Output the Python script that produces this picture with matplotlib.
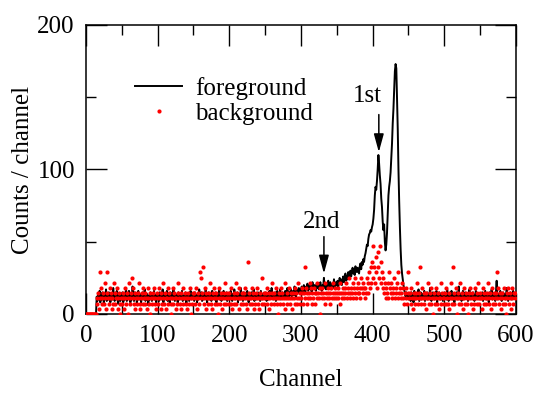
import numpy as np
import matplotlib
matplotlib.use("Agg")
import matplotlib.pyplot as plt

plt.rcParams['font.family'] = ['Liberation Serif', 'DejaVu Serif']
plt.rcParams['font.size'] = 18

# foreground spectrum, counts per channel (channels 0..599)
fg_000 = [0, 0, 0, 0, 0, 0, 0, 0, 0, 0, 0, 0, 0, 0, 0,
          12, 9, 14, 11, 16, 8, 13, 10, 15, 12, 7, 14, 11, 17, 9, 12, 10, 15, 13, 8,
          11, 14, 10, 18, 12, 9, 13, 11, 16, 10, 7, 12, 14, 9, 13]
fg_050 = [11, 15, 8, 12, 10, 14, 17, 9, 13, 11, 16, 12, 8, 14, 10, 19, 12, 9, 15, 11,
          13, 7, 12, 16, 10, 14, 11, 8, 13, 15, 10, 12, 17, 9, 11, 14, 12, 6, 13, 10,
          15, 11, 9, 14, 12, 16, 10, 13, 8, 12]
fg_100 = [14, 11, 9, 15, 12, 10, 13, 17, 8, 12, 11, 14, 10, 16, 9, 13, 12, 7, 15, 11,
          13, 10, 18, 12, 9, 14, 11, 13, 8, 15, 12, 10, 14, 11, 16, 9, 12, 13, 10, 15,
          7, 12, 14, 11, 9, 13, 16, 10, 12, 14]
fg_150 = [11, 9, 15, 12, 13, 8, 14, 10, 17, 12, 11, 15, 9, 13, 10, 14, 12, 18, 11, 8,
          13, 15, 10, 12, 14, 9, 16, 11, 13, 10, 12, 15, 8, 14, 11, 13, 17, 10, 12, 9,
          14, 11, 16, 12, 10, 13, 15, 9, 12, 14]
fg_200 = [10, 13, 16, 11, 9, 14, 12, 17, 10, 13, 11, 15, 8, 12, 14, 10, 18, 13, 11, 9,
          15, 12, 14, 10, 13, 16, 11, 8, 14, 12, 10, 15, 13, 11, 17, 9, 12, 14, 10, 13,
          15, 11, 12, 9, 16, 13, 10, 14, 12, 11]
fg_250 = [15, 12, 9, 14, 13, 10, 16, 12, 11, 18, 13, 10, 14, 12, 15, 9, 13, 16, 11, 14,
          12, 17, 10, 13, 15, 12, 14, 11, 16, 13, 12, 18, 14, 11, 15, 13, 17, 12, 14, 16,
          13, 19, 15, 12, 17, 14, 16, 18, 15, 17]
fg_300 = [16, 19, 15, 18, 20, 17, 14, 19, 18, 21, 16, 18, 20, 17, 19, 15, 22, 18, 17, 20,
          19, 16, 21, 18, 20, 17, 19, 22, 18, 16, 20, 19, 25, 18, 21, 17, 20, 19, 23, 18,
          20, 22, 17, 19, 21, 18, 24, 20, 19, 22]
fg_350 = [20, 23, 19, 22, 25, 21, 24, 20, 23, 26, 22, 25, 28, 23, 26, 24, 29, 25, 27, 30,
          26, 29, 32, 28, 31, 27, 33, 30, 29, 32, 30, 28, 33, 35, 31, 36, 34, 38, 36, 40,
          42, 45, 48, 47, 52, 55, 56, 58, 57, 60]
fg_400 = [62, 66, 72, 82, 88, 86, 92, 100, 110, 104, 96, 90, 80, 74, 64, 58, 62, 50, 44, 48,
          56, 70, 82, 88, 92, 98, 108, 118, 132, 142, 155, 168, 173, 170, 150, 128, 100, 78, 60, 45,
          34, 28, 24, 20, 17, 14, 12, 15, 11, 13]
fg_450 = [10, 14, 12, 9, 15, 11, 13, 8, 16, 12, 10, 14, 11, 13, 17, 9, 12, 15, 10, 14,
          12, 11, 16, 9, 13, 12, 15, 10, 14, 11, 18, 12, 9, 13, 15, 11, 10, 14, 12, 16,
          8, 13, 11, 15, 12, 10, 14, 13, 9, 12]
fg_500 = [15, 11, 13, 10, 17, 12, 9, 14, 11, 13, 16, 10, 12, 14, 8, 13, 11, 15, 12, 10,
          19, 13, 11, 14, 9, 12, 16, 10, 13, 15, 11, 12, 14, 9, 13, 17, 11, 10, 14, 12,
          15, 13, 9, 12, 16, 11, 14, 10, 13, 12]
fg_550 = [10, 14, 12, 15, 9, 13, 11, 16, 12, 10, 14, 13, 8, 15, 11, 12, 17, 10, 13, 14,
          11, 9, 15, 23, 12, 10, 14, 11, 16, 13, 9, 12, 15, 11, 14, 10, 13, 18, 12, 9,
          14, 11, 15, 13, 10, 12, 16, 11, 14, 12]

# background run, raw counts per channel, and its live-time normalisation
bg_scale = 3.6
bg_000 = [0, 0, 0, 0, 0, 0, 0, 0, 0, 0, 0, 0, 0, 0, 0,
          3, 2, 4, 1, 3, 8, 5, 2, 3, 4, 2, 6, 3, 1, 8, 4, 3, 2, 5, 3,
          4, 1, 3, 2, 6, 4, 2, 3, 5, 1, 3, 4, 2, 0, 3]
bg_050 = [2, 4, 3, 1, 5, 3, 2, 4, 0, 3, 6, 2, 3, 4, 7, 3, 5, 2, 1, 4,
          3, 2, 4, 3, 6, 2, 1, 3, 4, 2, 5, 3, 2, 4, 3, 1, 3, 5, 2, 4,
          0, 3, 2, 4, 3, 5, 2, 3, 1, 4]
bg_100 = [3, 2, 5, 3, 1, 4, 2, 3, 6, 2, 4, 3, 1, 3, 5, 2, 4, 3, 2, 0,
          3, 5, 2, 4, 3, 1, 3, 2, 4, 6, 3, 2, 4, 1, 3, 5, 2, 3, 4, 2,
          3, 1, 4, 3, 2, 5, 3, 0, 2, 4]
bg_150 = [3, 4, 2, 5, 3, 1, 4, 3, 2, 8, 3, 7, 4, 9, 2, 3, 5, 1, 4, 3,
          2, 4, 3, 6, 2, 3, 1, 4, 3, 5, 2, 3, 4, 2, 0, 3, 5, 2, 4, 3,
          1, 3, 2, 4, 6, 3, 2, 4, 3, 2]
bg_200 = [4, 3, 2, 5, 1, 3, 4, 2, 3, 6, 2, 4, 3, 1, 5, 3, 2, 4, 3, 2,
          4, 3, 5, 2, 3, 1, 10, 3, 4, 2, 3, 5, 2, 4, 1, 3, 2, 4, 3, 5,
          2, 3, 1, 4, 3, 7, 2, 3, 4, 2]
bg_250 = [3, 4, 2, 5, 3, 1, 4, 3, 2, 4, 6, 3, 2, 4, 3, 5, 2, 3, 0, 4,
          3, 2, 5, 3, 4, 2, 3, 6, 1, 3, 4, 2, 3, 5, 3, 2, 4, 3, 1, 4,
          3, 5, 2, 4, 3, 2, 6, 3, 4, 2]
bg_300 = [3, 5, 4, 2, 4, 9, 3, 5, 4, 2, 3, 4, 6, 3, 5, 2, 4, 3, 5, 4,
          2, 4, 3, 6, 4, 3, 5, 0, 4, 3, 5, 4, 3, 2, 6, 4, 3, 5, 4, 3,
          2, 4, 5, 3, 4, 6, 3, 4, 5, 3]
bg_350 = [4, 3, 5, 4, 2, 6, 4, 3, 5, 4, 3, 5, 4, 6, 3, 4, 5, 7, 4, 3,
          5, 4, 6, 3, 5, 4, 7, 3, 5, 4, 6, 4, 5, 3, 7, 5, 4, 6, 5, 3,
          5, 4, 7, 6, 4, 8, 5, 9, 6, 10]
bg_400 = [13, 7, 9, 6, 11, 8, 5, 9, 12, 7, 13, 10, 6, 8, 5, 7, 4, 6, 3, 5,
          4, 6, 3, 8, 5, 4, 6, 3, 5, 4, 7, 3, 5, 4, 6, 3, 8, 4, 5, 3,
          4, 6, 3, 5, 2, 4, 3, 5, 2, 4]
bg_450 = [8, 3, 4, 2, 5, 3, 1, 4, 3, 2, 4, 3, 6, 2, 3, 4, 9, 3, 2, 5,
          3, 4, 2, 3, 1, 4, 3, 6, 2, 3, 4, 2, 5, 3, 0, 3, 4, 2, 3, 5,
          2, 4, 3, 1, 3, 6, 2, 4, 3, 2]
bg_500 = [3, 4, 2, 5, 3, 2, 4, 1, 3, 6, 2, 3, 9, 4, 2, 3, 5, 0, 3, 4,
          2, 3, 6, 2, 4, 3, 1, 3, 5, 2, 4, 3, 2, 0, 3, 4, 5, 2, 3, 4,
          1, 3, 2, 5, 3, 4, 2, 6, 3, 2]
bg_550 = [4, 3, 1, 3, 5, 2, 4, 3, 2, 4, 3, 6, 2, 3, 4, 1, 3, 5, 2, 4,
          3, 2, 4, 8, 3, 5, 2, 3, 4, 1, 3, 4, 2, 5, 3, 2, 0, 4, 3, 5,
          2, 3, 4, 1, 3, 5, 2, 4, 3, 4]

fg = np.array(fg_000 + fg_050 + fg_100 + fg_150 + fg_200 + fg_250 +
              fg_300 + fg_350 + fg_400 + fg_450 + fg_500 + fg_550)
bg = np.array(bg_000 + bg_050 + bg_100 + bg_150 + bg_200 + bg_250 +
              bg_300 + bg_350 + bg_400 + bg_450 + bg_500 + bg_550) * bg_scale

# peak markers: label, channel, arrow tip, arrow tail, label position
peaks = [("1st", 408.6, 112, 138, (393, 151)),
         ("2nd", 332, 28, 53.5, (328.5, 64))]

fig = plt.figure(figsize=(5.36, 3.98), dpi=100)
ax = fig.add_axes([0.1604, 0.2111, 0.8023, 0.7261])

ax.plot(np.arange(len(fg)), fg, color='black', lw=1.4, label='foreground')
ax.plot(np.arange(len(bg)), bg, ls='none', marker='o', ms=3.0, mec='none',
        color='#ff0000', label='background', zorder=3)

for name, ch, tip, tail, pos in peaks:
    ax.annotate('', xy=(ch, tip), xytext=(ch, tail),
                arrowprops=dict(arrowstyle='-|>,head_length=1.1,head_width=0.3',
                                mutation_scale=10, color='black', lw=1.1,
                                shrinkA=0, shrinkB=0))
    ax.text(pos[0], pos[1], name, ha='center', va='center')

ax.set_xlim(0, 600)
ax.set_ylim(0, 200)
ax.set_xticks([0, 100, 200, 300, 400, 500, 600])
ax.set_xticks([50, 150, 250, 350, 450, 550], minor=True)
ax.set_yticks([0, 100, 200])
ax.set_yticks([50, 150], minor=True)
ax.tick_params(which='both', direction='in', top=True, right=True, width=1.0)
ax.tick_params(which='major', length=15, pad=8)
ax.tick_params(which='minor', length=7.5)
for s in ax.spines.values():
    s.set_linewidth(1.1)

ax.set_xlabel('Channel')
ax.set_ylabel('Counts / channel')
ax.xaxis.set_label_coords(0.5, -0.19)
ax.yaxis.set_label_coords(-0.12, 0.5)

ax.legend(loc='upper left', bbox_to_anchor=(0.114, 0.821), frameon=False,
          borderpad=0, borderaxespad=0, handlelength=1.9, handletextpad=0.5,
          labelspacing=0.12, markerscale=1.0)

fig.savefig('out.png', dpi=100)
